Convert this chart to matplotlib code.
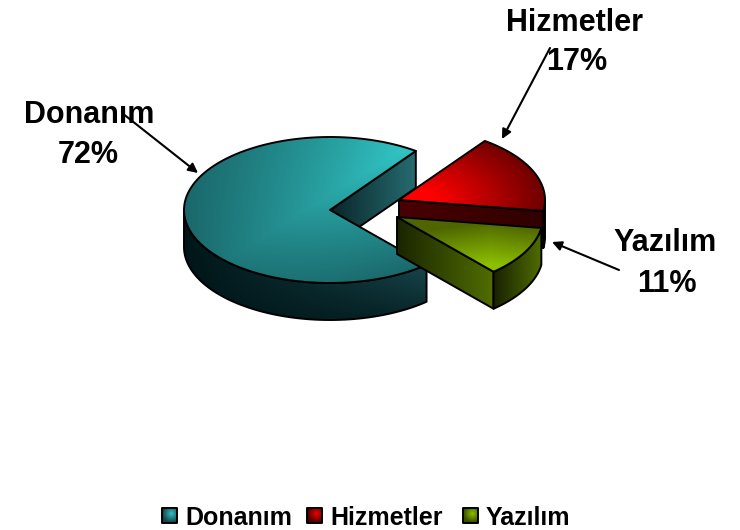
import numpy as np
import matplotlib
matplotlib.use("Agg")
import matplotlib.pyplot as plt
from matplotlib.colors import to_rgb
from matplotlib.patches import Polygon

categories = ["Donanım", "Hizmetler", "Yazılım"]
values = [71.5, 17.4, 11.1]

plt.rcParams['font.family'] = ['Liberation Sans', 'DejaVu Sans']

# pie geometry in pixels
RX, RY = 146, 73
DEPTH = 37
START = 54
centers = [(330, 210), (399, 200), (397, 217)]


def ramp(low, high, t):
    low, high = np.array(to_rgb(low)), np.array(to_rgb(high))
    t = np.clip(t, 0, 1)[..., None]
    return low + (high - low) * t


def fill(ax, verts, low, high, shade, edge=1.4):
    verts = np.array(verts)
    x0, y0 = np.floor(verts.min(axis=0))
    x1, y1 = np.ceil(verts.max(axis=0))
    xs, ys = np.meshgrid(np.arange(x0, x1 + 1), np.arange(y0, y1 + 1))
    im = ax.imshow(ramp(low, high, shade(xs, ys)), extent=(x0 - .5, x1 + .5, y1 + .5, y0 - .5),
                   aspect='auto', interpolation='bilinear', zorder=ax.zcount)
    patch = Polygon(verts, closed=True, fc='none', ec='black', lw=edge, joinstyle='round', zorder=ax.zcount + .5)
    ax.add_patch(patch)
    im.set_clip_path(patch)
    ax.zcount += 1


def rim(c, deg):
    a = np.radians(deg)
    return np.column_stack([c[0] + RX * np.cos(a), c[1] - RY * np.sin(a)])


def top(c, a0, a1):
    return np.vstack([[c], rim(c, np.linspace(a0, a1, 120))])


def outer(c, a0, a1):
    arc = rim(c, np.linspace(a0, a1, 120))
    return np.vstack([arc, arc[::-1] + [0, DEPTH]])


def face(c, a):
    p = rim(c, np.array([a]))[0]
    return [c, p, p + [0, DEPTH], (c[0], c[1] + DEPTH)]


def along_x(x0, x1):
    return lambda x, y: (x - x0) / (x1 - x0)


def teal_top(x, y):
    s = ((x - 184) * .85 - (y - 210) * .53) / 260
    p = (x - 330) * .53 + (y - 195) * .85
    penalty = np.where(p < 0, .3, .5)
    return (.4 + .65 * s) * (1 - penalty * np.abs(p) / 90)


def teal_side(x, y):
    return (x - 184) / 240 * (1 - (y - 250) / 70 * .75)


def red_top(x, y):
    return 1.15 - np.hypot(x - 415, 1.8 * (y - 200)) / 125


def yellow_top(x, y):
    return (y - 222) / 42 - np.abs(x - 490) / 300


fig = plt.figure(figsize=(7.4, 5.3), dpi=100)
ax = fig.add_axes([0, 0, 1, 1])
ax.zcount = 2

angles = np.array(values) / sum(values) * 360
teal_a0, teal_a1 = START, START + angles[0]
red_a1 = teal_a0 + 360 - angles[1]
yellow_a0 = teal_a1

# Donanim
c = centers[0]
fill(ax, face(c, teal_a0), '#0a2528', '#256a6e', along_x(330, 413))
fill(ax, outer(c, 180, teal_a1), '#001518', '#1c5055', teal_side)
fill(ax, top(c, teal_a0, teal_a1), '#0f3a3e', '#33cccc', teal_top)

# Hizmetler
c = centers[1]
fill(ax, outer(c, red_a1, 360), '#100000', '#300000', along_x(520, 545))
fill(ax, face(c, red_a1), '#4a0000', '#300000', along_x(399, 543))
fill(ax, top(c, red_a1, teal_a0 + 360), '#5a0000', '#ff0000', red_top)

# Yazilim
c = centers[2]
fill(ax, face(c, yellow_a0), '#1a2500', '#4f6b00', along_x(397, 490))
fill(ax, outer(c, yellow_a0, red_a1), '#141c00', '#4f6b00', along_x(490, 540))
fill(ax, top(c, yellow_a0, red_a1), '#4f6600', '#8cbf00', yellow_top)

# data labels and their leader arrows
label_pos = [(89, 115, 88, 155), (574, 23, 577, 62), (665, 243, 667, 284)]
arrows = [((122, 113), (198, 173)), ((550, 48), (502, 139)), ((619, 270), (552, 242))]
for name, val, (nx, ny, vx, vy) in zip(categories, values, label_pos):
    ax.text(nx, ny, name, fontsize=22, fontweight='bold', ha='center', va='center', zorder=50)
    ax.text(vx, vy, f"{round(val)}%", fontsize=22, fontweight='bold', ha='center', va='center', zorder=50)
for start, end in arrows:
    ax.annotate("", xy=end, xytext=start, zorder=60,
                arrowprops=dict(arrowstyle='-|>', color='black', lw=1.5, mutation_scale=14,
                                shrinkA=0, shrinkB=0))

# legend
swatch_x = [162, 307, 463]
swatch_colors = [('#124448', '#33bfc0'), ('#4a0000', '#f00000'), ('#3a4d00', '#8cbf00')]
for name, sx, (low, high) in zip(categories, swatch_x, swatch_colors):
    sq = [(sx, 508), (sx + 15, 508), (sx + 15, 523), (sx, 523)]
    fill(ax, sq, low, high, lambda x, y, sx=sx: 1 - np.hypot(x - sx - 9, y - 514) / 9)
    ax.text(sx + 23, 518, name, fontsize=18, fontweight='bold', ha='left', va='center', zorder=50)

ax.set_xlim(0, 740)
ax.set_ylim(530, 0)
ax.axis('off')
fig.savefig("out.png", dpi=100, facecolor='white')
